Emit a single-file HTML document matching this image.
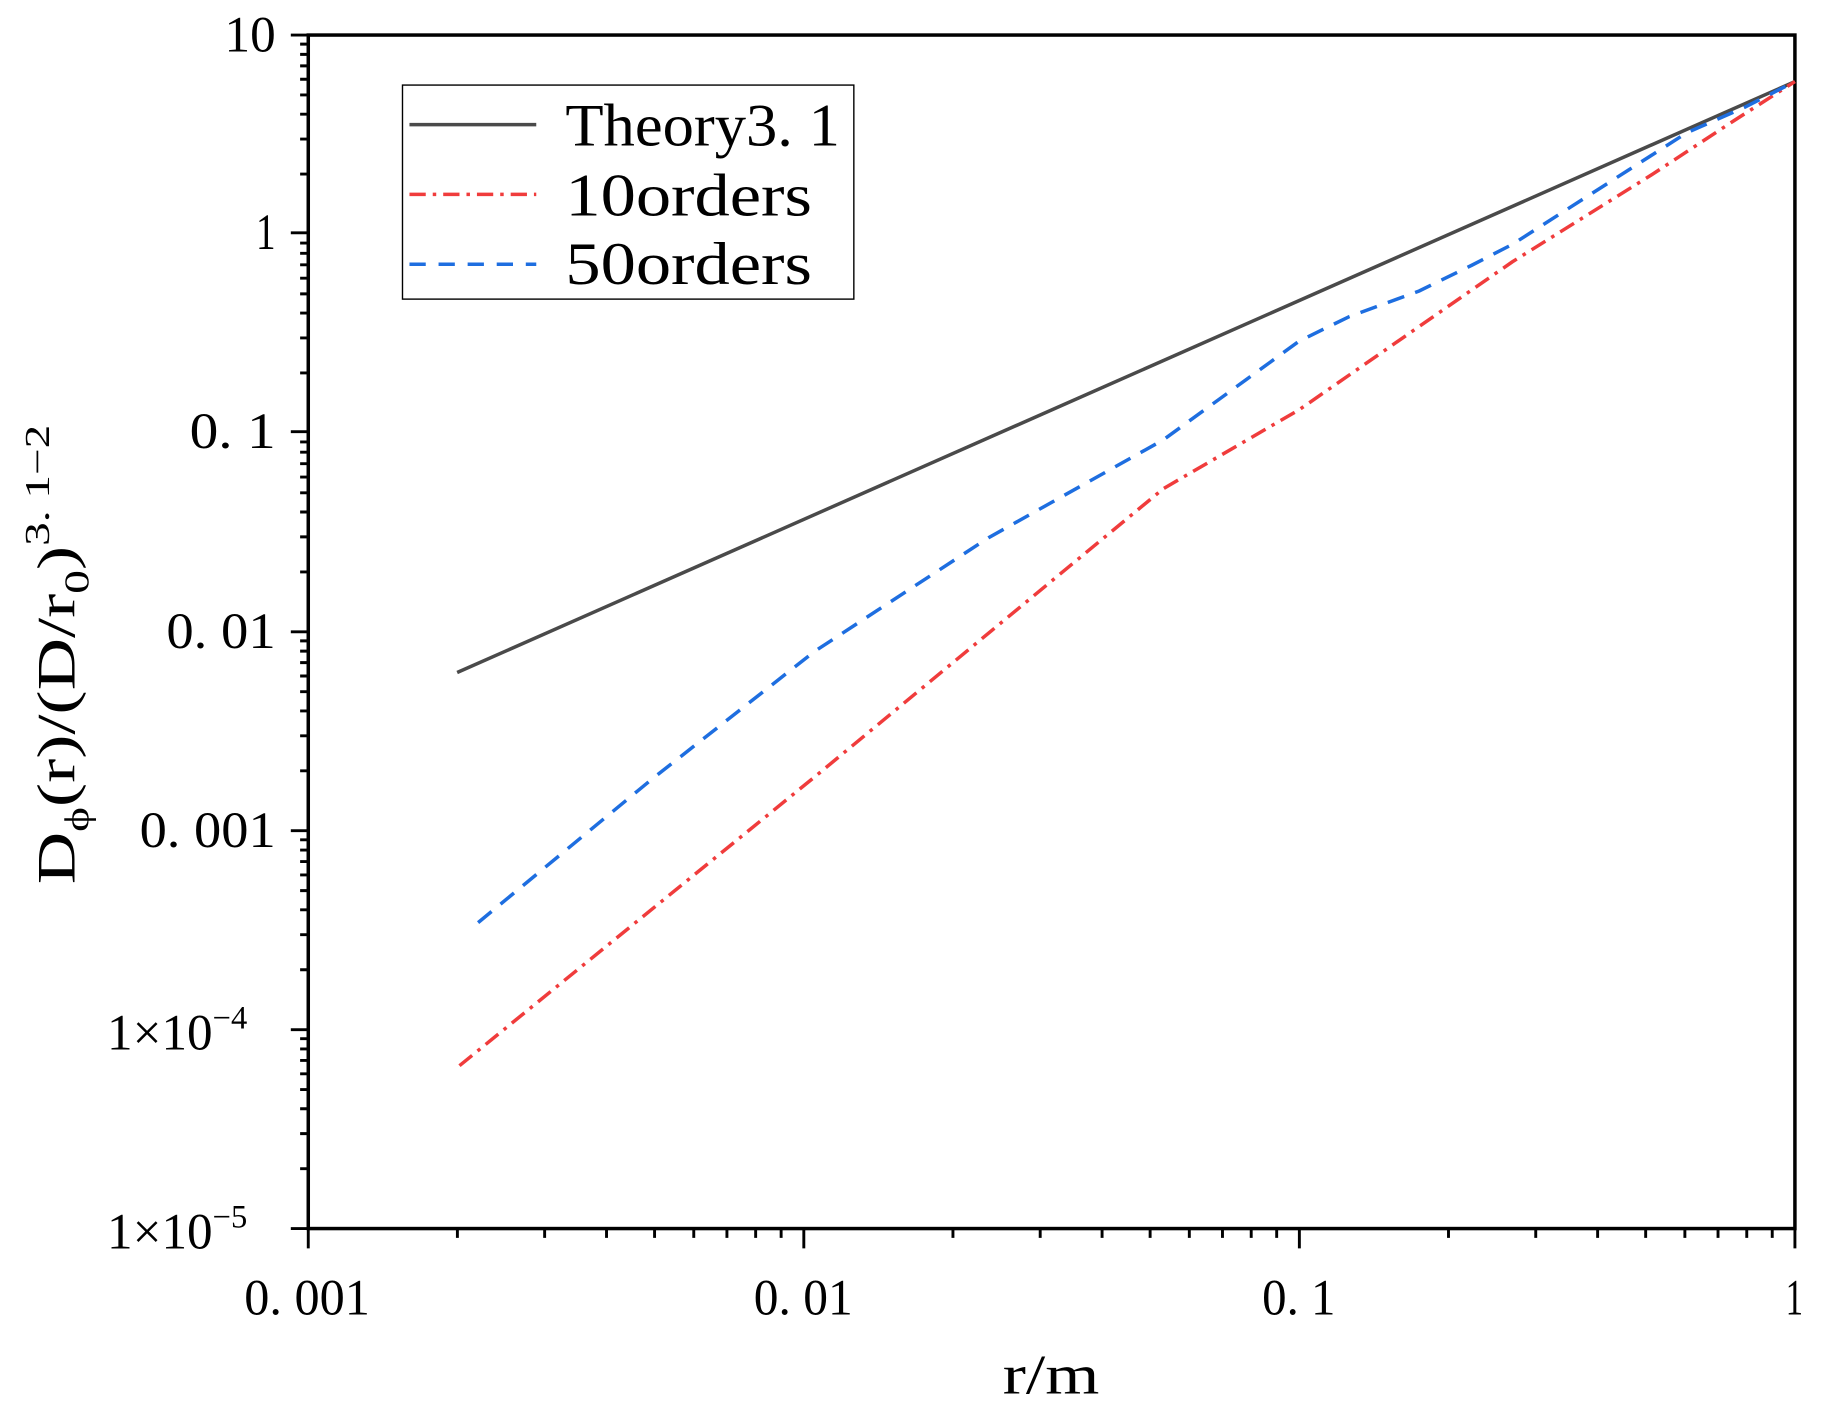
<!DOCTYPE html>
<html><head><meta charset="utf-8"><style>
html,body{margin:0;padding:0;background:#fff;}
svg{display:block;}
text{font-family:"Liberation Serif","Noto Serif CJK SC",serif;fill:#000;}
</style></head><body>
<svg width="1824" height="1416" viewBox="0 0 1568 1217" xmlns="http://www.w3.org/2000/svg">
<g stroke="#000" stroke-width="2.5">
<path d="
M258,1004.5H265 M258,974.4H265 M258,953H265 M258,936.5H265 M258,923H265 M258,911.5H265 M258,901.6H265 M258,892.8H265
M258,833.5H265 M258,803.4H265 M258,782H265 M258,765.5H265 M258,752H265 M258,740.5H265 M258,730.6H265 M258,721.8H265
M258,662.5H265 M258,632.4H265 M258,611H265 M258,594.5H265 M258,581H265 M258,569.5H265 M258,559.6H265 M258,550.8H265
M258,491.5H265 M258,461.4H265 M258,440H265 M258,423.5H265 M258,410H265 M258,398.5H265 M258,388.6H265 M258,379.8H265
M258,320.5H265 M258,290.4H265 M258,269H265 M258,252.5H265 M258,239H265 M258,227.5H265 M258,217.6H265 M258,208.8H265
M258,149.5H265 M258,119.4H265 M258,98H265 M258,81.5H265 M258,68H265 M258,56.5H265 M258,46.6H265 M258,37.8H265
"/>
<path d="M250,1056H265 M250,885H265 M250,714H265 M250,543H265 M250,371H265 M250,200H265 M250,30H265"/>
<path d="
M393.2,1056V1064 M468.2,1056V1064 M521.4,1056V1064 M562.7,1056V1064 M596.4,1056V1064 M624.9,1056V1064 M649.6,1056V1064 M671.5,1056V1064
M819.2,1056V1064 M894.2,1056V1064 M947.4,1056V1064 M988.7,1056V1064 M1022.4,1056V1064 M1050.9,1056V1064 M1075.6,1056V1064 M1097.5,1056V1064
M1245.2,1056V1064 M1320.2,1056V1064 M1373.4,1056V1064 M1414.7,1056V1064 M1448.4,1056V1064 M1476.9,1056V1064 M1501.6,1056V1064 M1523.5,1056V1064
M265,1056V1073 M691,1056V1073 M1117,1056V1073 M1543,1056V1073"/>
</g>
<rect x="265" y="30" width="1278" height="1026" fill="none" stroke="#000" stroke-width="3"/>
<polyline points="393,578 1543,70" fill="none" stroke="#4a4a4a" stroke-width="3"/>
<polyline points="395,916 700,668 1000,420 1117,352 1300,225 1420,150 1490,104 1543,70" fill="none" stroke="#f03c3c" stroke-width="3" stroke-dasharray="14,6,3,6"/>
<polyline points="411,793 560,670 700,560 850,462 1000,378 1117,293 1160,272 1220,250 1265,228 1300,210 1350,178 1400,146 1450,114 1500,92 1543,70" fill="none" stroke="#1e6ee0" stroke-width="3" stroke-dasharray="15,10"/>
<rect x="346" y="73" width="388" height="184" fill="#fff" stroke="#000" stroke-width="1.2"/>
<line x1="352" y1="107" x2="461" y2="107" stroke="#4a4a4a" stroke-width="3"/>
<line x1="352" y1="167" x2="461" y2="167" stroke="#f03c3c" stroke-width="3" stroke-dasharray="14,6,3,6"/>
<line x1="352" y1="227" x2="461" y2="227" stroke="#1e6ee0" stroke-width="3" stroke-dasharray="14,11"/>
<text x="486" y="125" font-size="52" textLength="236" lengthAdjust="spacingAndGlyphs">Theory3. 1</text>
<text x="486" y="185" font-size="52" textLength="212" lengthAdjust="spacingAndGlyphs">10orders</text>
<text x="486" y="244" font-size="52" textLength="212" lengthAdjust="spacingAndGlyphs">50orders</text>
<g font-size="44">
<text x="193" y="44" textLength="44" lengthAdjust="spacingAndGlyphs">10</text>
<text x="220" y="214" textLength="17" lengthAdjust="spacingAndGlyphs">1</text>
<text x="163" y="385" textLength="74" lengthAdjust="spacingAndGlyphs">0. 1</text>
<text x="143" y="557" textLength="94" lengthAdjust="spacingAndGlyphs">0. 01</text>
<text x="120" y="728" textLength="117" lengthAdjust="spacingAndGlyphs">0. 001</text>
<text x="92" y="902">1×10<tspan font-size="28" dy="-18">−4</tspan></text>
<text x="92" y="1073">1×10<tspan font-size="28" dy="-18">−5</tspan></text>
</g>
<g font-size="44">
<text x="210" y="1130" textLength="108" lengthAdjust="spacingAndGlyphs">0. 001</text>
<text x="648" y="1130" textLength="85" lengthAdjust="spacingAndGlyphs">0. 01</text>
<text x="1085" y="1130" textLength="63" lengthAdjust="spacingAndGlyphs">0. 1</text>
<text x="1535" y="1130" textLength="15" lengthAdjust="spacingAndGlyphs">1</text>
</g>
<text x="862" y="1198" font-size="48" textLength="83" lengthAdjust="spacingAndGlyphs">r/m</text>
<text transform="translate(64,760) rotate(-90)" font-size="46" textLength="395" lengthAdjust="spacingAndGlyphs">D<tspan font-size="30" dy="12">ϕ</tspan><tspan dy="-12">(r)/(D/r</tspan><tspan font-size="30" dy="12">0</tspan><tspan dy="-12">)</tspan><tspan font-size="30" dy="-22">3. 1−2</tspan></text>
</svg>
</body></html>
